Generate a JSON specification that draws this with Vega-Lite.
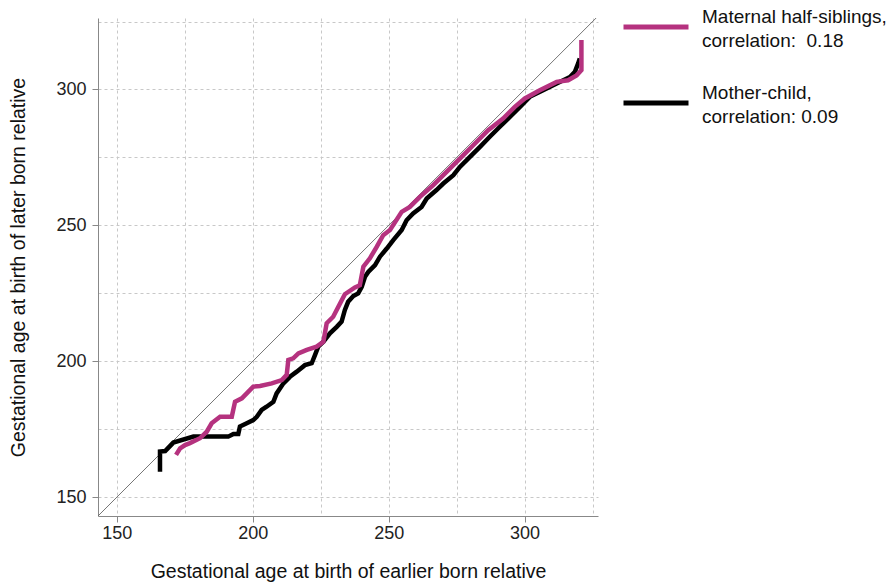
{
  "$schema": "https://vega.github.io/schema/vega-lite/v6.json",
  "autosize": {"type": "none"},
  "padding": {"left": 98, "top": 18, "right": 294, "bottom": 69},
  "width": 500,
  "height": 498,
  "background": "white",
  "config": {
    "font": "Liberation Sans",
    "view": {"stroke": null},
    "style": {"guide-label": {"lineHeight": 24}}
  },
  "datasets": {
    "curves": [
      {"series": "Mother-child", "i": 1, "x": 165.9, "y": 159.4},
      {"series": "Mother-child", "i": 2, "x": 165.9, "y": 166.8},
      {"series": "Mother-child", "i": 3, "x": 167.8, "y": 167.0},
      {"series": "Mother-child", "i": 4, "x": 170.8, "y": 170.1},
      {"series": "Mother-child", "i": 5, "x": 178.2, "y": 172.3},
      {"series": "Mother-child", "i": 6, "x": 191.0, "y": 172.3},
      {"series": "Mother-child", "i": 7, "x": 192.9, "y": 173.3},
      {"series": "Mother-child", "i": 8, "x": 194.7, "y": 173.3},
      {"series": "Mother-child", "i": 9, "x": 195.3, "y": 176.0},
      {"series": "Mother-child", "i": 10, "x": 197.8, "y": 177.2},
      {"series": "Mother-child", "i": 11, "x": 200.2, "y": 178.4},
      {"series": "Mother-child", "i": 12, "x": 201.5, "y": 179.6},
      {"series": "Mother-child", "i": 13, "x": 203.3, "y": 182.1},
      {"series": "Mother-child", "i": 14, "x": 205.1, "y": 183.3},
      {"series": "Mother-child", "i": 15, "x": 207.6, "y": 185.1},
      {"series": "Mother-child", "i": 16, "x": 208.8, "y": 188.2},
      {"series": "Mother-child", "i": 17, "x": 211.3, "y": 191.9},
      {"series": "Mother-child", "i": 18, "x": 213.7, "y": 194.3},
      {"series": "Mother-child", "i": 19, "x": 216.2, "y": 196.2},
      {"series": "Mother-child", "i": 20, "x": 219.2, "y": 198.6},
      {"series": "Mother-child", "i": 21, "x": 221.7, "y": 199.3},
      {"series": "Mother-child", "i": 22, "x": 222.9, "y": 202.3},
      {"series": "Mother-child", "i": 23, "x": 224.1, "y": 205.4},
      {"series": "Mother-child", "i": 24, "x": 226.0, "y": 207.2},
      {"series": "Mother-child", "i": 25, "x": 228.4, "y": 210.3},
      {"series": "Mother-child", "i": 26, "x": 230.9, "y": 212.7},
      {"series": "Mother-child", "i": 27, "x": 232.7, "y": 214.6},
      {"series": "Mother-child", "i": 28, "x": 233.9, "y": 218.9},
      {"series": "Mother-child", "i": 29, "x": 235.1, "y": 221.9},
      {"series": "Mother-child", "i": 30, "x": 237.0, "y": 224.0},
      {"series": "Mother-child", "i": 31, "x": 238.8, "y": 225.0},
      {"series": "Mother-child", "i": 32, "x": 240.1, "y": 227.4},
      {"series": "Mother-child", "i": 33, "x": 241.3, "y": 231.1},
      {"series": "Mother-child", "i": 34, "x": 242.5, "y": 232.9},
      {"series": "Mother-child", "i": 35, "x": 245.0, "y": 235.4},
      {"series": "Mother-child", "i": 36, "x": 246.8, "y": 238.5},
      {"series": "Mother-child", "i": 37, "x": 249.3, "y": 241.5},
      {"series": "Mother-child", "i": 38, "x": 251.7, "y": 244.6},
      {"series": "Mother-child", "i": 39, "x": 254.8, "y": 248.3},
      {"series": "Mother-child", "i": 40, "x": 256.6, "y": 251.9},
      {"series": "Mother-child", "i": 41, "x": 259.0, "y": 254.4},
      {"series": "Mother-child", "i": 42, "x": 262.1, "y": 256.8},
      {"series": "Mother-child", "i": 43, "x": 264.0, "y": 259.9},
      {"series": "Mother-child", "i": 44, "x": 267.6, "y": 263.0},
      {"series": "Mother-child", "i": 45, "x": 270.1, "y": 265.4},
      {"series": "Mother-child", "i": 46, "x": 273.8, "y": 268.5},
      {"series": "Mother-child", "i": 47, "x": 276.2, "y": 271.5},
      {"series": "Mother-child", "i": 48, "x": 279.9, "y": 275.2},
      {"series": "Mother-child", "i": 49, "x": 283.6, "y": 278.9},
      {"series": "Mother-child", "i": 50, "x": 287.2, "y": 282.6},
      {"series": "Mother-child", "i": 51, "x": 290.9, "y": 286.3},
      {"series": "Mother-child", "i": 52, "x": 294.6, "y": 289.9},
      {"series": "Mother-child", "i": 53, "x": 298.3, "y": 293.6},
      {"series": "Mother-child", "i": 54, "x": 301.9, "y": 297.3},
      {"series": "Mother-child", "i": 55, "x": 306.8, "y": 299.7},
      {"series": "Mother-child", "i": 56, "x": 311.8, "y": 302.2},
      {"series": "Mother-child", "i": 57, "x": 316.7, "y": 304.6},
      {"series": "Mother-child", "i": 58, "x": 318.5, "y": 306.5},
      {"series": "Mother-child", "i": 59, "x": 319.7, "y": 309.6},
      {"series": "Mother-child", "i": 60, "x": 320.3, "y": 311.4},
      {"series": "Maternal half-siblings", "i": 1, "x": 171.8, "y": 165.6},
      {"series": "Maternal half-siblings", "i": 2, "x": 173.3, "y": 168.0},
      {"series": "Maternal half-siblings", "i": 3, "x": 175.1, "y": 169.2},
      {"series": "Maternal half-siblings", "i": 4, "x": 176.9, "y": 169.9},
      {"series": "Maternal half-siblings", "i": 5, "x": 180.6, "y": 171.7},
      {"series": "Maternal half-siblings", "i": 6, "x": 183.1, "y": 174.1},
      {"series": "Maternal half-siblings", "i": 7, "x": 184.9, "y": 177.2},
      {"series": "Maternal half-siblings", "i": 8, "x": 188.0, "y": 179.6},
      {"series": "Maternal half-siblings", "i": 9, "x": 192.3, "y": 179.6},
      {"series": "Maternal half-siblings", "i": 10, "x": 193.5, "y": 185.1},
      {"series": "Maternal half-siblings", "i": 11, "x": 196.0, "y": 186.4},
      {"series": "Maternal half-siblings", "i": 12, "x": 197.8, "y": 188.2},
      {"series": "Maternal half-siblings", "i": 13, "x": 200.2, "y": 190.7},
      {"series": "Maternal half-siblings", "i": 14, "x": 202.7, "y": 190.9},
      {"series": "Maternal half-siblings", "i": 15, "x": 207.0, "y": 191.9},
      {"series": "Maternal half-siblings", "i": 16, "x": 210.7, "y": 193.1},
      {"series": "Maternal half-siblings", "i": 17, "x": 212.5, "y": 195.0},
      {"series": "Maternal half-siblings", "i": 18, "x": 213.1, "y": 200.5},
      {"series": "Maternal half-siblings", "i": 19, "x": 214.9, "y": 201.1},
      {"series": "Maternal half-siblings", "i": 20, "x": 216.8, "y": 202.9},
      {"series": "Maternal half-siblings", "i": 21, "x": 219.9, "y": 204.2},
      {"series": "Maternal half-siblings", "i": 22, "x": 223.5, "y": 205.4},
      {"series": "Maternal half-siblings", "i": 23, "x": 226.0, "y": 207.2},
      {"series": "Maternal half-siblings", "i": 24, "x": 227.2, "y": 214.0},
      {"series": "Maternal half-siblings", "i": 25, "x": 229.6, "y": 216.4},
      {"series": "Maternal half-siblings", "i": 26, "x": 231.5, "y": 220.1},
      {"series": "Maternal half-siblings", "i": 27, "x": 233.9, "y": 224.7},
      {"series": "Maternal half-siblings", "i": 28, "x": 237.6, "y": 227.2},
      {"series": "Maternal half-siblings", "i": 29, "x": 239.4, "y": 228.0},
      {"series": "Maternal half-siblings", "i": 30, "x": 240.7, "y": 234.8},
      {"series": "Maternal half-siblings", "i": 31, "x": 243.1, "y": 237.9},
      {"series": "Maternal half-siblings", "i": 32, "x": 245.6, "y": 242.1},
      {"series": "Maternal half-siblings", "i": 33, "x": 248.0, "y": 246.4},
      {"series": "Maternal half-siblings", "i": 34, "x": 250.5, "y": 248.3},
      {"series": "Maternal half-siblings", "i": 35, "x": 254.8, "y": 255.0},
      {"series": "Maternal half-siblings", "i": 36, "x": 257.8, "y": 256.8},
      {"series": "Maternal half-siblings", "i": 37, "x": 261.5, "y": 260.5},
      {"series": "Maternal half-siblings", "i": 38, "x": 266.4, "y": 264.8},
      {"series": "Maternal half-siblings", "i": 39, "x": 271.3, "y": 269.7},
      {"series": "Maternal half-siblings", "i": 40, "x": 276.2, "y": 274.6},
      {"series": "Maternal half-siblings", "i": 41, "x": 281.1, "y": 279.5},
      {"series": "Maternal half-siblings", "i": 42, "x": 286.6, "y": 285.0},
      {"series": "Maternal half-siblings", "i": 43, "x": 292.1, "y": 289.3},
      {"series": "Maternal half-siblings", "i": 44, "x": 296.4, "y": 293.6},
      {"series": "Maternal half-siblings", "i": 45, "x": 300.1, "y": 296.7},
      {"series": "Maternal half-siblings", "i": 46, "x": 305.6, "y": 299.7},
      {"series": "Maternal half-siblings", "i": 47, "x": 311.8, "y": 302.8},
      {"series": "Maternal half-siblings", "i": 48, "x": 316.0, "y": 303.4},
      {"series": "Maternal half-siblings", "i": 49, "x": 319.1, "y": 305.2},
      {"series": "Maternal half-siblings", "i": 50, "x": 320.9, "y": 307.1},
      {"series": "Maternal half-siblings", "i": 51, "x": 320.9, "y": 318.2}
    ],
    "diag": [{"x": 143.1, "y": 143.1, "x2": 327, "y2": 327}]
  },
  "layer": [
    {
      "data": {"name": "diag"},
      "mark": {"type": "rule", "color": "#666666", "strokeWidth": 0.9, "clip": true},
      "encoding": {
        "x": {
          "field": "x", "type": "quantitative",
          "scale": {"domain": [143.1, 327], "nice": false, "zero": false},
          "axis": {
            "values": [150, 175, 200, 225, 250, 275, 300, 325],
            "labelExpr": "datum.value % 50 === 0 ? datum.label : ''",
            "tickOpacity": {"condition": {"test": "datum.value % 50 === 0", "value": 1}, "value": 0},
            "grid": true, "gridColor": "#c8c8c8", "gridDash": [3, 3], "gridWidth": 1,
            "domainColor": "#888888", "tickColor": "#888888", "tickSize": 6,
            "labelFontSize": 18, "labelColor": "#222222", "labelPadding": 2,
            "title": "Gestational age at birth of earlier born relative",
            "titleFontSize": 19.5, "titleFontWeight": "normal", "titleColor": "#111111", "titlePadding": 20
          }
        },
        "y": {
          "field": "y", "type": "quantitative",
          "scale": {"domain": [143.1, 326.3], "nice": false, "zero": false},
          "axis": {
            "values": [150, 175, 200, 225, 250, 275, 300, 325],
            "labelExpr": "datum.value % 50 === 0 ? datum.label : ''",
            "tickOpacity": {"condition": {"test": "datum.value % 50 === 0", "value": 1}, "value": 0},
            "grid": true, "gridColor": "#c8c8c8", "gridDash": [3, 3], "gridWidth": 1,
            "domainColor": "#888888", "tickColor": "#888888", "tickSize": 6,
            "labelFontSize": 18, "labelColor": "#222222", "labelPadding": 6,
            "title": "Gestational age at birth of later born relative",
            "titleFontSize": 19.5, "titleFontWeight": "normal", "titleColor": "#111111", "titlePadding": 27
          }
        },
        "x2": {"field": "x2"},
        "y2": {"field": "y2"}
      }
    },
    {
      "data": {"name": "curves"},
      "transform": [{"filter": "datum.series === 'Mother-child'"}],
      "mark": {"type": "line", "strokeWidth": 4.5, "clip": true, "strokeJoin": "miter"},
      "encoding": {
        "x": {"field": "x", "type": "quantitative"},
        "y": {"field": "y", "type": "quantitative"},
        "order": {"field": "i", "type": "quantitative"},
        "color": {
          "field": "series", "type": "nominal",
          "scale": {"domain": ["Maternal half-siblings", "Mother-child"], "range": ["#b5327f", "#000000"]},
          "legend": {
            "title": null, "orient": "none", "legendX": 523, "legendY": -26, "padding": 0,
            "symbolType": "stroke", "symbolSize": 4225, "symbolStrokeWidth": 5,
            "labelFontSize": 19, "labelColor": "#111111", "labelLimit": 400, "labelOffset": 11,
            "labelBaseline": "bottom", "rowPadding": 17,
            "labelExpr": "datum.label === 'Mother-child' ? ['Mother-child,', 'correlation: 0.09'] : ['Maternal half-siblings,', 'correlation:\u00a0 0.18']"
          }
        }
      }
    },
    {
      "data": {"name": "curves"},
      "transform": [{"filter": "datum.series === 'Maternal half-siblings'"}],
      "mark": {"type": "line", "strokeWidth": 4.5, "clip": true, "strokeJoin": "miter"},
      "encoding": {
        "x": {"field": "x", "type": "quantitative"},
        "y": {"field": "y", "type": "quantitative"},
        "order": {"field": "i", "type": "quantitative"},
        "color": {"field": "series", "type": "nominal"}
      }
    }
  ]
}
